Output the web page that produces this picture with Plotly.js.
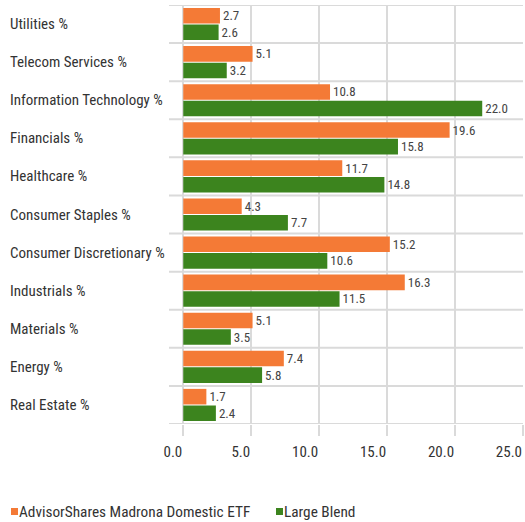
<!DOCTYPE html>
<html>
<head>
<meta charset="utf-8">
<script src="https://cdn.plot.ly/plotly-3.0.1.min.js"></script>
<style>html,body{margin:0;padding:0;background:#fff;}#chart{width:525px;height:522px;}</style>
</head>
<body>
<div id="chart"></div>
<script>
const categories = ["Utilities %","Telecom Services %","Information Technology %","Financials %","Healthcare %","Consumer Staples %","Consumer Discretionary %","Industrials %","Materials %","Energy %","Real Estate %"];
const fundValues = [2.7,5.1,10.8,19.6,11.7,4.3,15.2,16.3,5.1,7.4,1.7];
const categoryValues = [2.6,3.2,22.0,15.8,14.8,7.7,10.6,11.5,3.5,5.8,2.4];
const seriesNames = ["AdvisorShares Madrona Domestic ETF","Large Blend"];
const xTickVals = [0,5,10,15,20,25];
const xTickText = ["0.0","5.0","10.0","15.0","20.0","25.0"];

const ORANGE = "#f47a36";
const GREEN = "#3c841e";
const GRID = "#dadada";
const FONT = "'Roboto Condensed', Roboto, sans-serif";

const W = 525, H = 522;
const M = {l:169, r:2, t:5, b:98};
const pw = W - M.l - M.r, ph = H - M.t - M.b;
const px = x => (x - M.l) / pw;
const py = y => (H - M.b - y) / ph;

const traces = [
  {type:"bar", orientation:"h", name:seriesNames[0], y:categories, x:fundValues,
   marker:{color:ORANGE}, text:fundValues.map(v=>v.toFixed(1)), textposition:"outside",
   textfont:{family:FONT, size:13, color:"#444"}, cliponaxis:false, hoverinfo:"x+y"},
  {type:"bar", orientation:"h", name:seriesNames[1], y:categories, x:categoryValues,
   marker:{color:GREEN}, text:categoryValues.map(v=>v.toFixed(1)), textposition:"outside",
   textfont:{family:FONT, size:13, color:"#444"}, cliponaxis:false, hoverinfo:"x+y"}
];

const shapes = [];
for (let i = 0; i <= categories.length; i++) {
  shapes.push({type:"line", xref:"paper", yref:"y", x0:0, x1:1, y0:i-0.5, y1:i-0.5,
    line:{color:GRID, width:2}, layer:"below"});
}
const annotations = categories.map((c,i)=>({
  xref:"paper", yref:"y", x:px(8), y:i, xanchor:"left", yanchor:"middle",
  text:c, showarrow:false, font:{family:FONT, size:15, color:"#333"}
}));
// legend
const legY = 512;
shapes.push({type:"rect", xref:"paper", yref:"paper", x0:px(11), x1:px(18), y0:py(515), y1:py(508), fillcolor:ORANGE, line:{width:0}});
shapes.push({type:"rect", xref:"paper", yref:"paper", x0:px(276), x1:px(283), y0:py(515), y1:py(508), fillcolor:GREEN, line:{width:0}});
annotations.push({xref:"paper", yref:"paper", x:px(17), y:py(legY), xanchor:"left", yanchor:"middle",
  text:seriesNames[0], showarrow:false, font:{family:FONT, size:15.3, color:"#333"}});
annotations.push({xref:"paper", yref:"paper", x:px(282), y:py(legY), xanchor:"left", yanchor:"middle",
  text:seriesNames[1], showarrow:false, font:{family:FONT, size:15.3, color:"#333"}});

const layout = {
  width:W, height:H, margin:M, paper_bgcolor:"#fff", plot_bgcolor:"#fff",
  barmode:"group", bargap:0.13, bargroupgap:0.06, showlegend:false,
  font:{family:FONT, size:15, color:"#333"},
  xaxis:{range:[-1.05,25], tickvals:xTickVals, ticktext:xTickText, showgrid:true, gridcolor:GRID, gridwidth:2,
    zeroline:false, ticks:"outside", ticklen:11, tickwidth:2, tickcolor:GRID, showline:false,
    ticklabelposition:"outside left", ticklabelstandoff:14, tickfont:{family:FONT, size:15, color:"#333"}, fixedrange:true},
  yaxis:{type:"category", categoryorder:"array", categoryarray:categories, range:[categories.length-0.5,-0.5],
    showticklabels:false, showgrid:false, zeroline:false, showline:false, ticks:"", fixedrange:true},
  shapes:shapes, annotations:annotations
};
Plotly.newPlot("chart", traces, layout, {displayModeBar:false, staticPlot:true});
</script>
</body>
</html>
